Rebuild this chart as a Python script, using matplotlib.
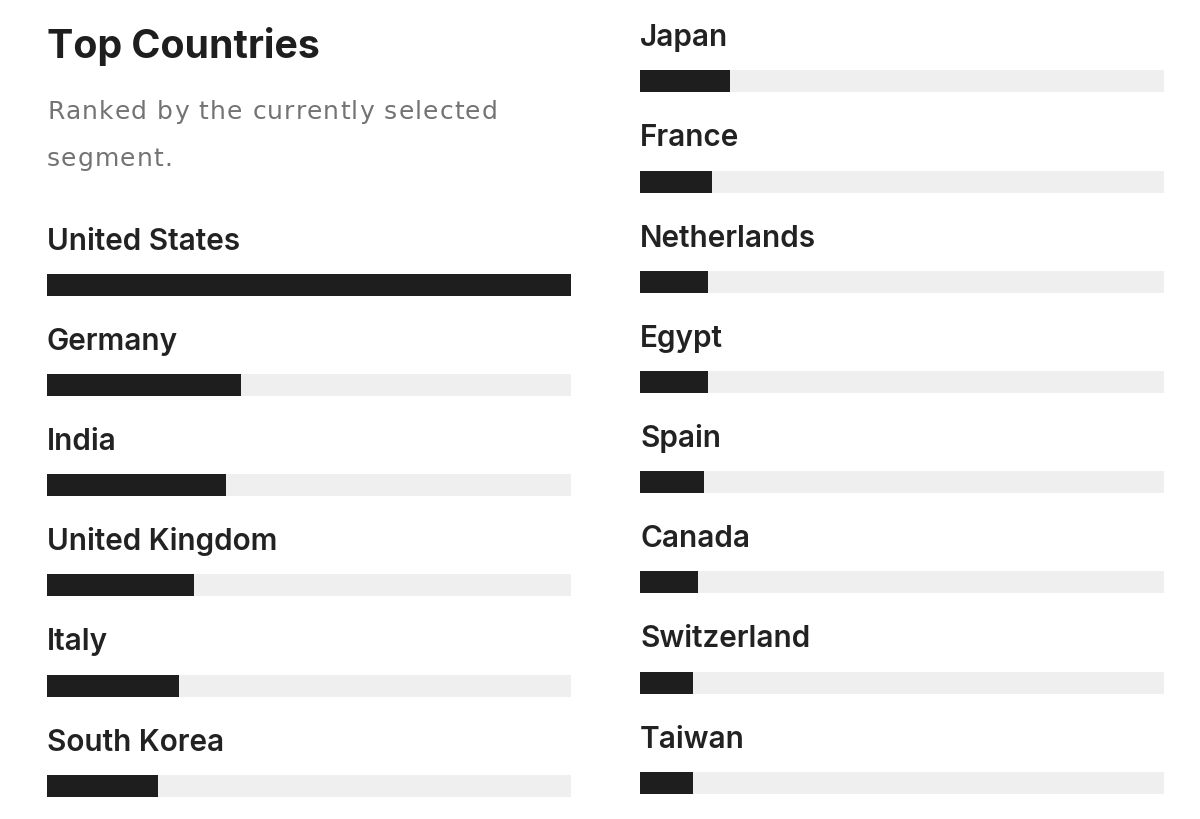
import matplotlib
matplotlib.use("Agg")
import matplotlib.pyplot as plt
from matplotlib.font_manager import FontProperties, findfont, get_font

# ---- data ----
left_countries = ["United States", "Germany", "India", "United Kingdom", "Italy", "South Korea"]
left_values = [100.0, 37.0, 34.2, 28.0, 25.2, 21.1]
right_countries = ["Japan", "France", "Netherlands", "Egypt", "Spain", "Canada", "Switzerland", "Taiwan"]
right_values = [17.2, 13.8, 13.0, 13.0, 12.2, 11.1, 10.2, 10.2]
title = "Top Countries"
subtitle_lines = ["Ranked by the currently selected", "segment."]
x_max = 100.0

# ---- style ----
W, H = 1200, 819
DPI = 100
BAR = "#1e1e1e"
TRACK = "#efefef"
LABEL = "#222222"
SUB = "#737373"
ROW_PX = 100.2
BAR_H = 22 / ROW_PX
LABEL_OFF = 0.35
LABEL_FONT = dict(family=["Inter", "DejaVu Sans"], fontweight="semibold", fontsize=21.4)

fig = plt.figure(figsize=(W / DPI, H / DPI), dpi=DPI)
fig.patch.set_facecolor("white")


def make_axes(x0, x1, first_center, n, top_pad, bottom_pad):
    top_px = first_center - top_pad * ROW_PX
    bot_px = first_center + (n - 1 + bottom_pad) * ROW_PX
    ax = fig.add_axes([x0 / W, 1 - bot_px / H, (x1 - x0) / W, (bot_px - top_px) / H])
    ax.set_xlim(0, x_max)
    ax.set_ylim(n - 1 + bottom_pad, -top_pad)
    ax.axis("off")
    return ax


def draw_column(ax, names, values):
    ys = list(range(len(names)))
    ax.barh(ys, [x_max] * len(names), height=BAR_H, color=TRACK, linewidth=0)
    ax.barh(ys, values, height=BAR_H, color=BAR, linewidth=0)
    for y, name in zip(ys, names):
        ax.text(0, y - LABEL_OFF, name, ha="left", va="baseline", color=LABEL, **LABEL_FONT)


def tracked_text(x_px, y_px, s, size_pt, color, family, tracking_px):
    fp = FontProperties(family=family, size=size_pt)
    font = get_font(findfont(fp))
    font.set_size(size_pt, DPI)
    x = x_px
    for ch in s:
        g = font.load_char(ord(ch))
        adv = g.linearHoriAdvance / 65536.0
        if ch != " ":
            fig.text(x / W, 1 - y_px / H, ch, ha="left", va="baseline",
                     fontproperties=fp, color=color)
        x += adv + tracking_px


axL = make_axes(47, 571, 284.7, len(left_countries), 0.9, 0.3)
draw_column(axL, left_countries, left_values)

axR = make_axes(640, 1164, 81.3, len(right_countries), 0.7, 0.3)
draw_column(axR, right_countries, right_values)

fig.text(47 / W, 1 - 57.8 / H, title, ha="left", va="baseline",
         fontsize=28.3, fontweight="bold", color="#1e1e1e",
         family=["Inter", "DejaVu Sans"])
for i, line in enumerate(subtitle_lines):
    tracked_text(47, 119.3 + i * 47, line, 18.0, SUB, "DejaVu Sans", 1.1)

fig.savefig("out.png", dpi=DPI, facecolor="white")
